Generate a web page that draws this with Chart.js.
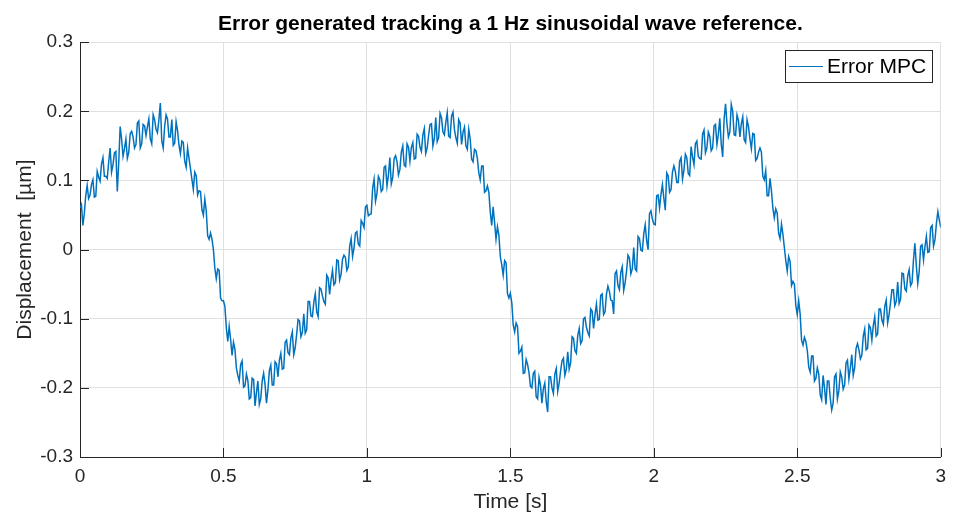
<!DOCTYPE html>
<html>
<head>
<meta charset="utf-8">
<script src="https://cdn.jsdelivr.net/npm/chart.js@4.4.0/dist/chart.umd.min.js"></script>
<style>
  html, body { margin: 0; padding: 0; background: #fff; }
  #wrap { width: 954px; height: 516px; }
</style>
</head>
<body>
<div id="wrap"><canvas id="chart"></canvas></div>
<script>
// the "mid" arrays hold the samples half a step later (t + 0.005)
const sampleStep = 0.01;

const errorCycle1 = [
  0.060, 0.035, 0.078, 0.074, 0.094, 0.076, 0.113, 0.099, 0.133, 0.106,
  0.127, 0.112, 0.140, 0.084, 0.178, 0.135, 0.160, 0.141, 0.171, 0.147,
  0.183, 0.147, 0.181, 0.165, 0.189, 0.153, 0.188, 0.169, 0.212, 0.147,
  0.195, 0.163, 0.188, 0.154, 0.172, 0.139, 0.155, 0.119, 0.132, 0.102,
  0.112, 0.079, 0.084, 0.050, 0.056, 0.015, 0.015, -0.027, -0.028, -0.070,
  -0.074, -0.113, -0.111, -0.153, -0.144, -0.182, -0.166, -0.199, -0.180, -0.216,
  -0.186, -0.226, -0.190, -0.216, -0.179, -0.222, -0.175, -0.196, -0.162, -0.184,
  -0.150, -0.172, -0.131, -0.152, -0.119, -0.142, -0.101, -0.126, -0.093, -0.116,
  -0.075, -0.097, -0.064, -0.097, -0.057, -0.075, -0.037, -0.065, -0.030, -0.048,
  -0.016, -0.036, -0.008, -0.030, 0.005, -0.010, 0.024, 0.008, 0.042, 0.032
];
const errorMidCycle1 = [
  0.065, 0.052, 0.093, 0.079, 0.101, 0.077, 0.105, 0.124, 0.106, 0.103,
  0.147, 0.123, 0.142, 0.126, 0.160, 0.146, 0.132, 0.168, 0.163, 0.152,
  0.186, 0.153, 0.179, 0.178, 0.160, 0.195, 0.174, 0.188, 0.157, 0.178,
  0.189, 0.163, 0.151, 0.185, 0.151, 0.157, 0.128, 0.147, 0.117, 0.087,
  0.107, 0.085, 0.058, 0.073, 0.020, 0.024, 0.000, -0.042, -0.030, -0.074,
  -0.082, -0.133, -0.130, -0.134, -0.171, -0.190, -0.161, -0.197, -0.189, -0.214,
  -0.188, -0.207, -0.224, -0.190, -0.195, -0.203, -0.167, -0.196, -0.165, -0.160,
  -0.173, -0.134, -0.149, -0.128, -0.152, -0.123, -0.103, -0.120, -0.121, -0.075,
  -0.096, -0.076, -0.090, -0.055, -0.067, -0.079, -0.041, -0.044, -0.051, -0.015,
  -0.044, -0.014, -0.011, -0.025, 0.016, 0.002, 0.026, 0.005, 0.038, 0.062
];

const errorCycle2 = [
  0.064, 0.051, 0.089, 0.070, 0.106, 0.084, 0.119, 0.092, 0.133, 0.104,
  0.136, 0.108, 0.141, 0.122, 0.153, 0.128, 0.155, 0.132, 0.164, 0.142,
  0.175, 0.147, 0.181, 0.150, 0.191, 0.162, 0.191, 0.166, 0.198, 0.162,
  0.199, 0.162, 0.188, 0.152, 0.177, 0.145, 0.160, 0.127, 0.143, 0.111,
  0.121, 0.083, 0.092, 0.054, 0.062, 0.015, 0.021, -0.022, -0.016, -0.064,
  -0.063, -0.109, -0.106, -0.150, -0.141, -0.178, -0.166, -0.198, -0.179, -0.213,
  -0.185, -0.222, -0.193, -0.235, -0.184, -0.208, -0.172, -0.193, -0.161, -0.182,
  -0.148, -0.164, -0.128, -0.150, -0.114, -0.132, -0.098, -0.120, -0.086, -0.114,
  -0.079, -0.101, -0.064, -0.090, -0.053, -0.073, -0.093, -0.031, -0.058, -0.025,
  -0.048, -0.008, -0.035, 0.003, -0.031, 0.016, -0.002, 0.036, 0.000, 0.056
];
const errorMidCycle2 = [
  0.049, 0.052, 0.102, 0.081, 0.101, 0.087, 0.121, 0.108, 0.095, 0.132,
  0.127, 0.116, 0.150, 0.120, 0.148, 0.148, 0.131, 0.167, 0.148, 0.166,
  0.139, 0.165, 0.182, 0.161, 0.156, 0.197, 0.170, 0.184, 0.164, 0.193,
  0.174, 0.154, 0.183, 0.170, 0.150, 0.174, 0.131, 0.145, 0.132, 0.101,
  0.121, 0.085, 0.083, 0.035, 0.039, 0.033, -0.010, -0.037, -0.019, -0.070,
  -0.077, -0.119, -0.111, -0.147, -0.179, -0.159, -0.178, -0.200, -0.176, -0.216,
  -0.196, -0.201, -0.220, -0.184, -0.200, -0.180, -0.205, -0.176, -0.157, -0.173,
  -0.173, -0.126, -0.146, -0.124, -0.136, -0.100, -0.112, -0.125, -0.089, -0.094,
  -0.102, -0.066, -0.094, -0.064, -0.060, -0.074, -0.035, -0.052, -0.033, -0.059,
  -0.031, -0.012, -0.028, -0.028, 0.019, -0.001, 0.023, 0.013, 0.052, 0.044
];

const errorCycle3 = [
  0.037, 0.078, 0.060, 0.094, 0.057, 0.107, 0.087, 0.121, 0.097, 0.128,
  0.102, 0.138, 0.110, 0.149, 0.123, 0.157, 0.132, 0.167, 0.140, 0.170,
  0.143, 0.179, 0.152, 0.190, 0.134, 0.211, 0.163, 0.210, 0.166, 0.195,
  0.163, 0.192, 0.155, 0.178, 0.146, 0.167, 0.132, 0.147, 0.106, 0.114,
  0.078, 0.085, 0.046, 0.053, 0.016, 0.022, -0.016, -0.010, -0.052, -0.050,
  -0.094, -0.093, -0.138, -0.133, -0.170, -0.154, -0.190, -0.171, -0.210, -0.182,
  -0.224, -0.190, -0.232, -0.184, -0.216, -0.177, -0.202, -0.164, -0.187, -0.152,
  -0.171, -0.136, -0.158, -0.125, -0.145, -0.109, -0.131, -0.097, -0.122, -0.086,
  -0.108, -0.073, -0.094, -0.058, -0.081, -0.047, -0.072, -0.035, -0.060, -0.029,
  -0.048, 0.009, -0.049, 0.005, -0.015, 0.019, -0.003, 0.035, 0.014, 0.055, 0.032
];
const errorMidCycle3 = [
  0.036, 0.079, 0.080, 0.074, 0.111, 0.083, 0.112, 0.113, 0.097, 0.133,
  0.115, 0.133, 0.107, 0.134, 0.153, 0.135, 0.131, 0.173, 0.147, 0.164,
  0.147, 0.181, 0.167, 0.153, 0.189, 0.182, 0.170, 0.200, 0.165, 0.187,
  0.182, 0.159, 0.188, 0.160, 0.168, 0.129, 0.141, 0.141, 0.101, 0.078,
  0.103, 0.060, 0.059, 0.024, 0.037, 0.003, -0.031, -0.017, -0.046, -0.081,
  -0.074, -0.131, -0.127, -0.146, -0.177, -0.154, -0.186, -0.180, -0.217, -0.200,
  -0.190, -0.215, -0.222, -0.180, -0.204, -0.184, -0.196, -0.160, -0.171, -0.182,
  -0.143, -0.145, -0.153, -0.115, -0.143, -0.113, -0.110, -0.125, -0.086, -0.102,
  -0.082, -0.106, -0.077, -0.058, -0.075, -0.078, -0.034, -0.057, -0.038, -0.052,
  -0.015, -0.023, -0.032, 0.007, 0.004, -0.004, 0.032, 0.005, 0.038, 0.043
];

const timeTicks = [0, 0.5, 1, 1.5, 2, 2.5, 3];
const displacementTicks = [-0.3, -0.2, -0.1, 0, 0.1, 0.2, 0.3];

const seriesLabel = 'Error MPC';
const chartTitle = 'Error generated tracking a 1 Hz sinusoidal wave reference.';
const xLabel = 'Time [s]';
const yLabel = 'Displacement  [µm]';

const fontFamily = "'Liberation Sans', Arial, Helvetica, sans-serif";
const axisColor = '#262626';
const gridColor = '#e0e0e0';
const lineColor = '#0072BD';

// interleave whole-step and half-step samples into {x, y} points
const mainValues = [...errorCycle1, ...errorCycle2, ...errorCycle3];
const midValues = [...errorMidCycle1, ...errorMidCycle2, ...errorMidCycle3];
const points = [];
mainValues.forEach((y, i) => {
  const t = i * sampleStep;
  points.push({ x: Number(t.toFixed(3)), y });
  if (i < midValues.length) {
    points.push({ x: Number((t + sampleStep / 2).toFixed(3)), y: midValues[i] });
  }
});

// MATLAB style ticks pointing into the plot
const inwardTicks = {
  id: 'inwardTicks',
  afterDraw(chart) {
    const { ctx, chartArea, scales } = chart;
    const len = 9;
    ctx.save();
    ctx.strokeStyle = axisColor;
    ctx.lineWidth = 1;
    ctx.beginPath();
    timeTicks.forEach((v) => {
      const x = Math.round(scales.x.getPixelForValue(v)) + 0.5;
      ctx.moveTo(x, chartArea.bottom);
      ctx.lineTo(x, chartArea.bottom - len);
    });
    displacementTicks.forEach((v) => {
      const y = Math.round(scales.y.getPixelForValue(v)) + 0.5;
      ctx.moveTo(chartArea.left, y);
      ctx.lineTo(chartArea.left + len, y);
    });
    ctx.stroke();
    ctx.restore();
  },
};

// boxed legend inside the top-right corner of the axes
const insideLegend = {
  id: 'insideLegend',
  afterDraw(chart) {
    const { ctx, chartArea } = chart;
    const ds = chart.data.datasets[0];
    ctx.save();
    ctx.font = `21px ${fontFamily}`;
    const textW = ctx.measureText(ds.label).width;
    const w = Math.round(4 + 34 + 4 + textW + 6);
    const h = 32;
    const x = Math.round(chartArea.right - 9 - w);
    const y = Math.round(chartArea.top + 8);
    ctx.fillStyle = '#ffffff';
    ctx.fillRect(x, y, w, h);
    ctx.strokeStyle = axisColor;
    ctx.lineWidth = 1;
    ctx.strokeRect(x + 0.5, y + 0.5, w, h);
    ctx.strokeStyle = ds.borderColor;
    ctx.lineWidth = 1.2;
    ctx.beginPath();
    ctx.moveTo(x + 4, y + h / 2 + 0.5);
    ctx.lineTo(x + 38, y + h / 2 + 0.5);
    ctx.stroke();
    ctx.fillStyle = '#000000';
    ctx.textBaseline = 'middle';
    ctx.fillText(ds.label, x + 42, y + h / 2 + 1);
    ctx.restore();
  },
};

const tickFont = { family: fontFamily, size: 19 };
const labelFont = { family: fontFamily, size: 21 };

new Chart(document.getElementById('chart'), {
  type: 'line',
  data: {
    datasets: [{
      label: seriesLabel,
      data: points,
      borderColor: lineColor,
      borderWidth: 1.5,
      pointRadius: 0,
      tension: 0,
      fill: false,
    }],
  },
  options: {
    responsive: true,
    maintainAspectRatio: false,
    animation: false,
    layout: { padding: { left: 0, right: 13, top: 0, bottom: 0 } },
    plugins: {
      legend: { display: false },
      tooltip: { enabled: false },
      title: {
        display: true,
        text: chartTitle,
        fullSize: false,
        color: '#000000',
        font: { family: fontFamily, size: 21, weight: 'bold' },
        padding: { top: 12, bottom: 5 },
      },
    },
    scales: {
      x: {
        type: 'linear',
        min: 0,
        max: 3,
        afterBuildTicks: (scale) => { scale.ticks = timeTicks.map((value) => ({ value })); },
        afterFit: (scale) => { scale.height = 59; },
        ticks: {
          color: axisColor,
          font: tickFont,
          padding: 8,
          maxRotation: 0,
          callback: (v) => String(v),
        },
        grid: { color: gridColor, lineWidth: 1, drawTicks: false },
        border: { color: axisColor, width: 1 },
        title: {
          display: true,
          text: xLabel,
          color: axisColor,
          font: labelFont,
          padding: { top: 0, bottom: 1 },
        },
      },
      y: {
        type: 'linear',
        min: -0.3,
        max: 0.3,
        afterBuildTicks: (scale) => { scale.ticks = displacementTicks.map((value) => ({ value })); },
        afterFit: (scale) => { scale.width = 80; },
        ticks: {
          color: axisColor,
          font: tickFont,
          padding: 7,
          callback: (v) => String(Math.round(v * 10) / 10),
        },
        grid: { color: gridColor, lineWidth: 1, drawTicks: false },
        border: { color: axisColor, width: 1 },
        title: {
          display: true,
          text: yLabel,
          color: axisColor,
          font: labelFont,
          padding: { top: 13, bottom: 0 },
        },
      },
    },
  },
  plugins: [inwardTicks, insideLegend],
});
</script>
</body>
</html>
